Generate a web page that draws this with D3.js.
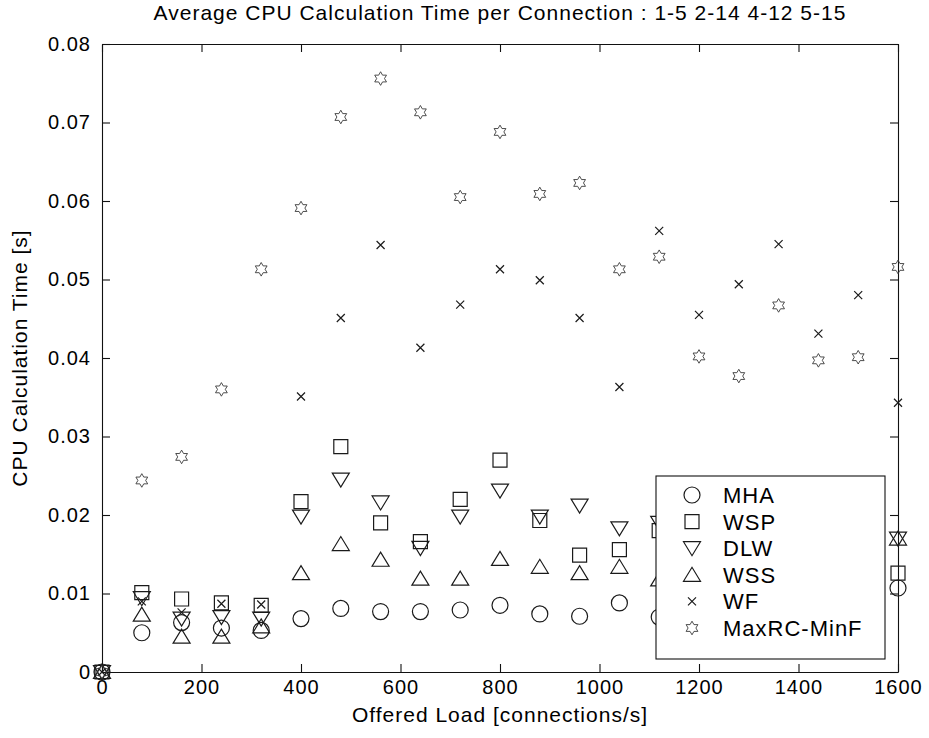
<!doctype html>
<html lang="en">

<head>
  <meta charset="utf-8">
  <title>Average CPU Calculation Time per Connection</title>
  <script src="https://d3js.org/d3.v7.min.js"></script>
  <style type="text/css">
    html,
    body {
      width: 100%;
      height: 100%;
      padding: 0;
      margin: 0;
      background: #fff;
    }

    svg {
      display: block;
      font-family: "Liberation Sans", Arial, Helvetica, sans-serif;
    }

    text {
      letter-spacing: 1px;
      fill: #000;
    }
  </style>
</head>

<body>
  <script>
    // offered load values (x) and the measured CPU times for each algorithm
    var loads = [0, 80, 160, 240, 320, 400, 480, 560, 640, 720, 800, 880, 960, 1040, 1120, 1200, 1280, 1360, 1440, 1520, 1600];

    var mha = [0, 0.0050, 0.0063, 0.0056, 0.0053, 0.0068, 0.0081, 0.0077, 0.0077, 0.0079, 0.0085, 0.0074, 0.0071, 0.0088, 0.0070, 0.0080, 0.0075, 0.0085, 0.0078, 0.0082, 0.0107];
    var wsp = [0, 0.0101, 0.0093, 0.0088, 0.0085, 0.0217, 0.0287, 0.0190, 0.0166, 0.0220, 0.0270, 0.0193, 0.0149, 0.0156, 0.0180, 0.0170, 0.0160, 0.0150, 0.0140, 0.0145, 0.0126];
    var dlw = [0, 0.0094, 0.0068, 0.0070, 0.0068, 0.0198, 0.0245, 0.0216, 0.0158, 0.0198, 0.0231, 0.0198, 0.0212, 0.0183, 0.0190, 0.0190, 0.0180, 0.0200, 0.0170, 0.0185, 0.0170];
    var wss = [0, 0.0073, 0.0045, 0.0045, 0.0058, 0.0126, 0.0163, 0.0143, 0.0119, 0.0119, 0.0144, 0.0134, 0.0126, 0.0134, 0.0118, 0.0125, 0.0130, 0.0140, 0.0125, 0.0135, 0.0170];
    var wf = [0, 0.0090, 0.0076, 0.0087, 0.0086, 0.0351, 0.0451, 0.0544, 0.0413, 0.0468, 0.0513, 0.0499, 0.0451, 0.0363, 0.0562, 0.0455, 0.0494, 0.0545, 0.0431, 0.0480, 0.0343];
    var maxrc = [0, 0.0244, 0.0274, 0.0360, 0.0513, 0.0591, 0.0707, 0.0756, 0.0713, 0.0605, 0.0688, 0.0609, 0.0623, 0.0513, 0.0529, 0.0402, 0.0377, 0.0467, 0.0397, 0.0401, 0.0516];

    var seriesNames = ["MHA", "WSP", "DLW", "WSS", "WF", "MaxRC-MinF"];
    var seriesMarkers = ["circle", "square", "down", "up", "cross", "hexagram"];
    var seriesValues = [mha, wsp, dlw, wss, wf, maxrc];

    var xTicks = [0, 200, 400, 600, 800, 1000, 1200, 1400, 1600];
    var yTicks = [0, 0.01, 0.02, 0.03, 0.04, 0.05, 0.06, 0.07, 0.08];

    var titleText = "Average CPU Calculation Time per Connection : 1-5 2-14 4-12 5-15";
    var xLabel = "Offered Load [connections/s]";
    var yLabel = "CPU Calculation Time [s]";

    // set margins
    var margin = { top: 44, right: 31, bottom: 66, left: 102 },
      width = 929 - margin.left - margin.right,
      height = 738 - margin.top - margin.bottom;

    var xScale = d3.scaleLinear()
      .domain([0, 1600])
      .range([0, width]);

    var yScale = d3.scaleLinear()
      .domain([0, 0.08])
      .range([height, 0]);

    var svg = d3.select("body").append("svg")
      .attr("width", width + margin.left + margin.right)
      .attr("height", height + margin.top + margin.bottom)
      .append("g")
      .attr("transform", "translate(" + margin.left + "," + margin.top + ")");

    // marker path for a given kind (matlab-ish symbols)
    function markerPath(kind) {
      var p = d3.path();
      if (kind === "circle") {
        p.moveTo(8, 0);
        p.arc(0, 0, 8, 0, 2 * Math.PI);
      } else if (kind === "square") {
        p.rect(-7, -7, 14, 14);
      } else if (kind === "down") {
        p.moveTo(-8.5, -6.5); p.lineTo(8.5, -6.5); p.lineTo(0, 7.5); p.closePath();
      } else if (kind === "up") {
        p.moveTo(-8.5, 6.5); p.lineTo(8.5, 6.5); p.lineTo(0, -7.5); p.closePath();
      } else if (kind === "cross") {
        p.moveTo(-4, -4); p.lineTo(4, 4);
        p.moveTo(-4, 4); p.lineTo(4, -4);
      } else if (kind === "hexagram") {
        for (var i = 0; i < 12; i++) {
          var r = i % 2 === 0 ? 6.8 : 3.9;
          var a = -Math.PI / 2 + i * Math.PI / 6;
          if (i === 0) p.moveTo(r * Math.cos(a), r * Math.sin(a));
          else p.lineTo(r * Math.cos(a), r * Math.sin(a));
        }
        p.closePath();
      }
      return p.toString();
    }

    function styleMarker(sel, kind) {
      sel.attr("d", markerPath(kind))
        .attr("fill", "none")
        .attr("stroke", kind === "hexagram" ? "#3a3a3a" : "#1a1a1a")
        .attr("stroke-width", kind === "hexagram" ? 0.9 : 1.2);
    }

    // axes: labelled bottom/left, plain top/right, all ticks pointing inwards
    var xAxis = svg.append("g")
      .attr("class", "x axis")
      .attr("transform", "translate(0," + height + ")")
      .call(d3.axisBottom(xScale).tickValues(xTicks).tickSizeInner(-8).tickSizeOuter(0).tickPadding(8)
        .tickFormat(d3.format("d")));

    var yAxis = svg.append("g")
      .attr("class", "y axis")
      .call(d3.axisLeft(yScale).tickValues(yTicks).tickSizeInner(-8).tickSizeOuter(0).tickPadding(11)
        .tickFormat(d3.format(".2~f")));

    svg.append("g")
      .call(d3.axisTop(xScale).tickValues(xTicks).tickSizeInner(-8).tickSizeOuter(0).tickFormat(""));

    svg.append("g")
      .attr("transform", "translate(" + width + ",0)")
      .call(d3.axisRight(yScale).tickValues(yTicks).tickSizeInner(-8).tickSizeOuter(0).tickFormat(""));

    svg.selectAll(".domain, .tick line")
      .attr("stroke", "#111")
      .attr("stroke-width", 1.1);

    svg.selectAll(".axis text")
      .attr("font-family", null)
      .style("font-size", "20px");

    // data markers, one group per series
    seriesValues.forEach(function(vals, s) {
      svg.append("g")
        .attr("class", "series")
        .selectAll("path")
        .data(loads.map(function(x, i) { return [x, vals[i]]; }))
        .enter()
        .append("path")
        .attr("transform", function(d) {
          return "translate(" + xScale(d[0]) + "," + yScale(d[1]) + ")";
        })
        .call(styleMarker, seriesMarkers[s]);
    });

    // title
    svg.append("text")
      .attr("x", width / 2)
      .attr("y", -24)
      .attr("text-anchor", "middle")
      .style("font-size", "21px")
      .text(titleText);

    // x-axis title
    svg.append("text")
      .attr("x", width / 2)
      .attr("y", height + 50)
      .attr("text-anchor", "middle")
      .style("font-size", "21px")
      .text(xLabel);

    // y-axis title
    svg.append("text")
      .attr("transform", "translate(" + (-75) + "," + (height / 2) + ") rotate(-90)")
      .attr("text-anchor", "middle")
      .style("font-size", "21px")
      .text(yLabel);

    // legend box in the lower right corner
    var legend = svg.append("g")
      .attr("class", "legend")
      .attr("transform", "translate(" + (656 - margin.left) + "," + (476 - margin.top) + ")");

    legend.append("rect")
      .attr("width", 229)
      .attr("height", 183)
      .attr("fill", "#fff")
      .attr("stroke", "#111")
      .attr("stroke-width", 1.1);

    var items = legend.selectAll(".item")
      .data(seriesNames)
      .enter()
      .append("g")
      .attr("class", "item")
      .attr("transform", function(d, i) { return "translate(0," + (19 + i * 26.6) + ")"; });

    items.append("path")
      .attr("transform", "translate(36,0)")
      .each(function(d, i) { d3.select(this).call(styleMarker, seriesMarkers[i]); });

    items.append("text")
      .attr("x", 67)
      .attr("dy", "0.36em")
      .style("font-size", "22px")
      .text(function(d) { return d; });
  </script>
</body>

</html>
